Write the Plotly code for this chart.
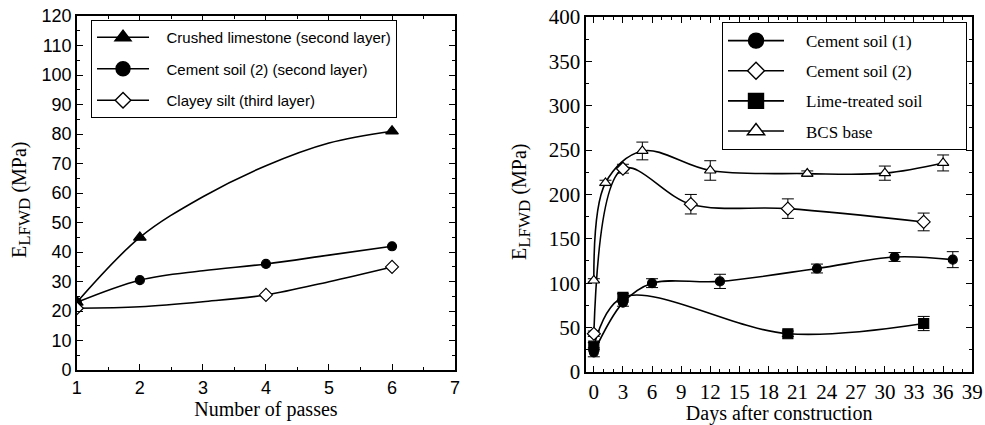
import plotly.graph_objects as go

# ---------- data: left panel (Number of passes) ----------
passes_cl = [1, 2, 6]
vals_cl = [23, 45, 81]
passes_cs2 = [1, 2, 4, 6]
vals_cs2 = [23, 30.5, 36, 42]
passes_silt = [1, 4, 6]
vals_silt = [21, 25.5, 35]

# fitted curves (line only, no markers)
curve_x_cl = [1, 2, 3, 4, 5, 6]
curve_y_cl = [23, 45, 58.8, 69.3, 77, 81]
curve_x_cs2 = [1, 2, 3, 4, 5, 6]
curve_y_cs2 = [23, 30.5, 33.7, 36, 39, 42]
curve_x_silt = [1, 2, 3, 4, 5, 6]
curve_y_silt = [21, 21.5, 23.2, 25.5, 30, 35]

# ---------- data: right panel (Days after construction) ----------
days_cs1 = [0, 3, 6, 13, 23, 31, 37]
vals_cs1 = [22, 78, 100, 102, 116.5, 129.5, 126.5]
err_cs1 = [5, 4, 5, 8, 5, 5, 9]

days_cs2b = [0, 3, 10, 20, 34]
vals_cs2b = [43, 229, 189, 184, 169]
err_cs2b = [3, 5, 11, 11, 10]

days_lime = [0, 3, 20, 34]
vals_lime = [29, 84, 43, 54.5]
err_lime = [4, 4, 3, 8]

days_bcs = [0, 1.2, 5, 12, 22, 30, 36]
vals_bcs = [103, 213, 249, 227, 223.5, 224, 235.5]
err_bcs = [2, 3, 10, 11, 3, 8, 9]

Y_TITLE = "E<sub><span style='font-size:17px'>LFWD</span></sub> (MPa)"

SERIF = "Liberation Serif"
SANS = "Liberation Sans"
BLACK = "black"
NB = "\u00a0"

fig = go.Figure()

def add_line(x, y, xa, ya):
    fig.add_trace(go.Scatter(
        x=x, y=y, mode="lines", xaxis=xa, yaxis=ya,
        line=dict(color=BLACK, width=1.6, shape="spline", smoothing=1.0),
        showlegend=False, hoverinfo="skip"))

def add_markers(x, y, symbol, fill, xa, ya, size):
    fig.add_trace(go.Scatter(
        x=x, y=y, mode="markers", xaxis=xa, yaxis=ya,
        marker=dict(symbol=symbol, size=size, color=fill,
                    line=dict(color=BLACK, width=1.2)),
        showlegend=False))

def add_series(x, y, symbol, fill, xa, ya, size, err=None):
    kw = {}
    if err is not None:
        kw["error_y"] = dict(type="data", array=err, visible=True, color=BLACK,
                             thickness=1, width=6)
    fig.add_trace(go.Scatter(
        x=x, y=y, mode="lines+markers", xaxis=xa, yaxis=ya,
        line=dict(color=BLACK, width=1.6, shape="spline", smoothing=1.0),
        marker=dict(symbol=symbol, size=size, color=fill,
                    line=dict(color=BLACK, width=1.2)),
        showlegend=False, **kw))

def add_legend(name, symbol, fill, legend, group, size, pad, tail=0):
    fig.add_trace(go.Scatter(
        x=[None], y=[None], mode="lines+markers", name=NB * pad + name + NB * tail,
        legend=legend, legendgroup=group, xaxis="x", yaxis="y",
        line=dict(color=BLACK, width=1.6),
        marker=dict(symbol=symbol, size=size, color=fill,
                    line=dict(color=BLACK, width=1.4)),
        showlegend=True))

# left panel
add_line(curve_x_cl, curve_y_cl, "x", "y")
add_line(curve_x_cs2, curve_y_cs2, "x", "y")
add_line(curve_x_silt, curve_y_silt, "x", "y")
add_markers(passes_cl, vals_cl, "triangle-up", BLACK, "x", "y", 11)
add_markers(passes_cs2, vals_cs2, "circle", BLACK, "x", "y", 9)
add_markers(passes_silt, vals_silt, "diamond", "white", "x", "y", 10)
add_legend("Crushed limestone (second layer)", "triangle-up", BLACK, "legend", "a", 14, 3)
add_legend("Cement soil (2) (second layer)", "circle", BLACK, "legend", "b", 14, 3)
add_legend("Clayey silt (third layer)", "diamond", "white", "legend", "c", 12, 3)

# right panel
add_series(days_lime, vals_lime, "square", BLACK, "x2", "y2", 10, err_lime)
add_series(days_cs1, vals_cs1, "circle", BLACK, "x2", "y2", 9, err_cs1)
add_series(days_cs2b, vals_cs2b, "diamond", "white", "x2", "y2", 10, err_cs2b)
add_series(days_bcs, vals_bcs, "triangle-up", "white", "x2", "y2", 10, err_bcs)
add_legend("Cement soil (1)", "circle", BLACK, "legend2", "d", 15, 4, 9)
add_legend("Cement soil (2)", "diamond", "white", "legend2", "e", 13, 4, 9)
add_legend("Lime-treated soil", "square", BLACK, "legend2", "f", 15, 4, 9)
add_legend("BCS base", "triangle-up", "white", "legend2", "g", 15, 4, 9)

axis_common = dict(showgrid=False, zeroline=False, showline=True, linecolor=BLACK,
                   linewidth=1.5, mirror="allticks", ticks="inside", ticklen=6,
                   tickwidth=1.2, tickcolor=BLACK, automargin=False)

fig.update_layout(
    width=985, height=425,
    margin=dict(l=0, r=0, t=0, b=0, autoexpand=False),
    paper_bgcolor="white", plot_bgcolor="white",
    xaxis=dict(domain=[0.078, 0.462], range=[1, 7], dtick=1, tick0=1,
               tickfont=dict(family=SANS, size=18, color=BLACK),
               title=dict(text="Number of passes", font=dict(family=SERIF, size=20, color=BLACK), standoff=4),
               minor=dict(ticks="inside", ticklen=3, dtick=0.5, tickcolor=BLACK),
               anchor="y", **axis_common),
    yaxis=dict(domain=[0.129, 0.962], range=[0, 120], dtick=10,
               tickfont=dict(family=SANS, size=18, color=BLACK),
               minor=dict(ticks="inside", ticklen=3, dtick=5, tickcolor=BLACK),
               anchor="x", **axis_common),
    xaxis2=dict(domain=[0.595, 0.987], range=[-0.8, 39], dtick=3, tick0=0,
                tickfont=dict(family=SERIF, size=21, color=BLACK),
                title=dict(text="Days after construction", font=dict(family=SERIF, size=20, color=BLACK), standoff=2),
                minor=dict(ticks="inside", ticklen=3, dtick=1, tickcolor=BLACK),
                anchor="y2", **axis_common),
    yaxis2=dict(domain=[0.125, 0.96], range=[0, 400], dtick=50,
                tickfont=dict(family=SERIF, size=21, color=BLACK),
                minor=dict(ticks="inside", ticklen=3, dtick=25, tickcolor=BLACK),
                anchor="x2", **axis_common),
    legend=dict(x=0.0924, y=0.953, xanchor="left", yanchor="top",
                bordercolor=BLACK, borderwidth=1, bgcolor="white",
                font=dict(family=SANS, size=15, color=BLACK),
                itemwidth=52, tracegroupgap=9),
    legend2=dict(x=0.733, y=0.948, xanchor="left", yanchor="top",
                 bordercolor=BLACK, borderwidth=1, bgcolor="white",
                 font=dict(family=SERIF, size=17, color=BLACK),
                 itemwidth=56, tracegroupgap=5),
    annotations=[
        dict(text=Y_TITLE, xref="paper", yref="paper", x=21 / 985, y=1 - 200 / 425,
             xanchor="center", yanchor="middle", textangle=-90, showarrow=False,
             font=dict(family=SERIF, size=20, color=BLACK)),
        dict(text=Y_TITLE, xref="paper", yref="paper", x=521 / 985, y=1 - 202 / 425,
             xanchor="center", yanchor="middle", textangle=-90, showarrow=False,
             font=dict(family=SERIF, size=20, color=BLACK)),
    ],
)

fig.write_html("out.html")
